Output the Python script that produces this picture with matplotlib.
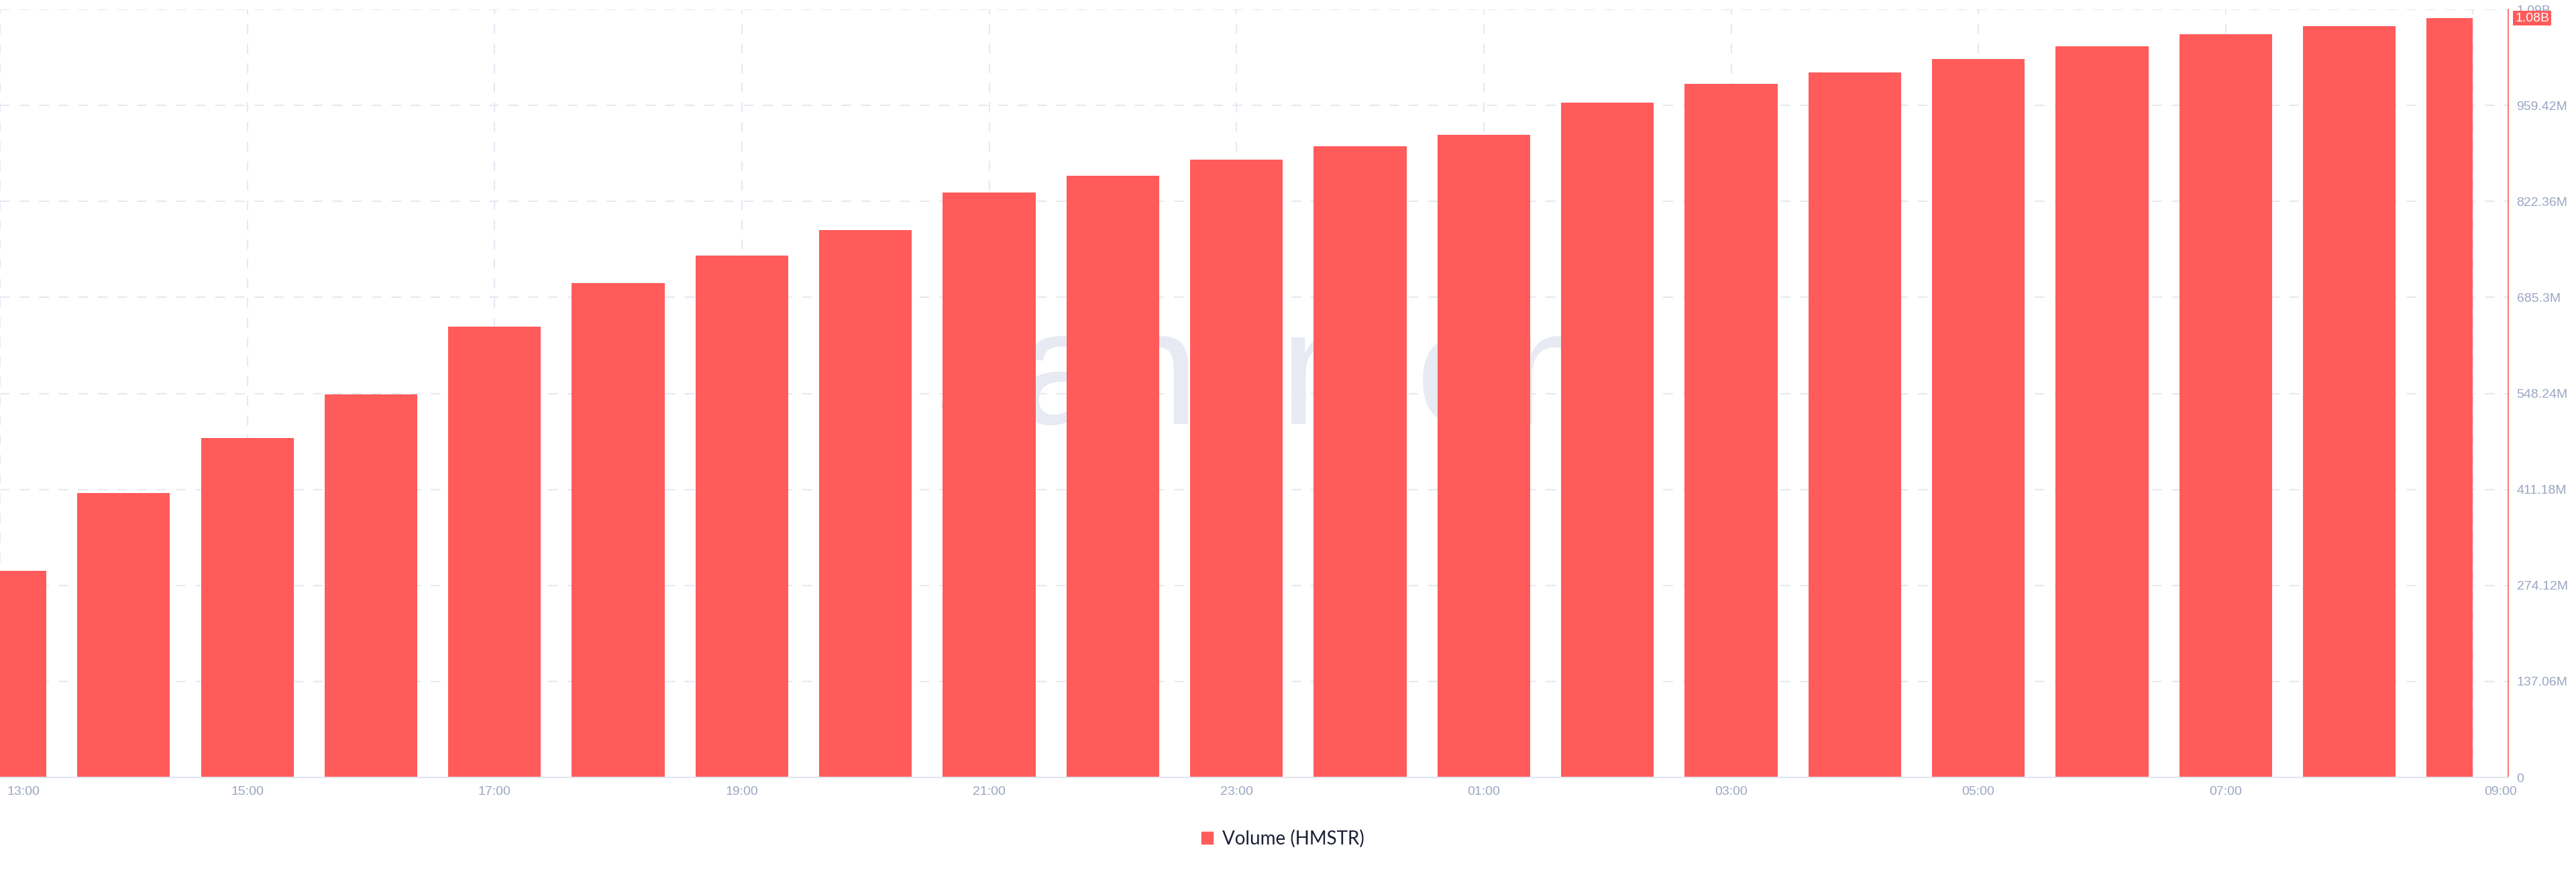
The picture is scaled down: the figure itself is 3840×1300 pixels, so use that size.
import matplotlib
matplotlib.use('Agg')
import matplotlib.pyplot as plt
from matplotlib.patches import Patch
from matplotlib.transforms import ScaledTranslation

plt.rcParams['font.family'] = ['Liberation Sans', 'DejaVu Sans']

# hourly volume, millions of HMSTR
hours = ['13:00', '14:00', '15:00', '16:00', '17:00', '18:00', '19:00', '20:00',
         '21:00', '22:00', '23:00', '00:00', '01:00', '02:00', '03:00', '04:00',
         '05:00', '06:00', '07:00', '08:00', '09:00']
volume_m = [294.5, 406.2, 484.4, 547.0, 643.7, 705.3, 744.9, 781.4,
            835.2, 859.4, 881.8, 901.3, 917.3, 963.3, 990.1, 1006.9,
            1025.5, 1043.7, 1061.2, 1072.7, 1084.0]

ytick_vals = [0, 137.06, 274.12, 411.18, 548.24, 685.3, 822.36, 959.42, 1096.48]
ytick_labels = ['0', '137.06M', '274.12M', '411.18M', '548.24M', '685.3M',
                '822.36M', '959.42M', '1.09B']

RED = '#ff5b5b'
GRID = '#e6e8f2'
TICK = '#9ba6c2'

fig = plt.figure(figsize=(38.4, 13), dpi=100)
ax = fig.add_axes([0, 0.10846, 0.97370, 0.88077])

x = list(range(len(hours)))
ax.bar(x[:-1], volume_m[:-1], width=0.75, color=RED, zorder=2)
# latest bar is drawn only up to its timestamp
ax.bar(x[-1], volume_m[-1], width=-0.375, align='edge', color=RED, zorder=2)

ax.text(0.514, 0.46, 'santiment', transform=ax.transAxes, fontsize=175,
        family=['Liberation Sans Narrow', 'Liberation Sans'], color='#e7eaf3',
        ha='center', va='baseline', zorder=1)

ax.set_xlim(0, 20.285)
ax.set_ylim(0, ytick_vals[-1])

ax.set_xticks(x[::2], hours[::2])
ax.set_yticks(ytick_vals, ytick_labels)
ax.set_axisbelow(True)
ax.grid(color=GRID, lw=1.5, linestyle=(0, (7, 7)))

for s in ['top', 'left']:
    ax.spines[s].set_visible(False)
ax.spines['right'].set_color(RED)
ax.spines['right'].set_linewidth(1.2)
ax.spines['bottom'].set_color('#e3e6f0')
ax.spines['bottom'].set_linewidth(1.5)

ax.tick_params(axis='y', left=False, right=False, labelleft=False, labelright=True,
               length=0, pad=9, labelcolor=TICK, labelsize=14)
ax.tick_params(axis='x', length=0, pad=9, labelcolor=TICK, labelsize=14)

xl = ax.get_xticklabels()
xl[0].set_transform(xl[0].get_transform() + ScaledTranslation(0.35, 0, fig.dpi_scale_trans))
xl[-1].set_transform(xl[-1].get_transform() + ScaledTranslation(0.41, 0, fig.dpi_scale_trans))

last = volume_m[-1]
ax.annotate('%.2fB' % (int(last / 10) / 100), xy=(1, last),
            xycoords=('axes fraction', 'data'), xytext=(10, 0), textcoords='offset pixels',
            ha='left', va='center', color='white', fontsize=14, annotation_clip=False,
            bbox=dict(boxstyle='square,pad=0.15', fc=RED, ec='none'), zorder=10)

fig.legend(handles=[Patch(color=RED, label='Volume (HMSTR)')], loc='center',
           bbox_to_anchor=(0.498, 0.038), frameon=False,
           prop={'family': 'Lato', 'size': 20}, labelcolor='#1b2033',
           handlelength=0.62, handleheight=0.62, handletextpad=0.5)

fig.savefig('out.png', dpi=100)
